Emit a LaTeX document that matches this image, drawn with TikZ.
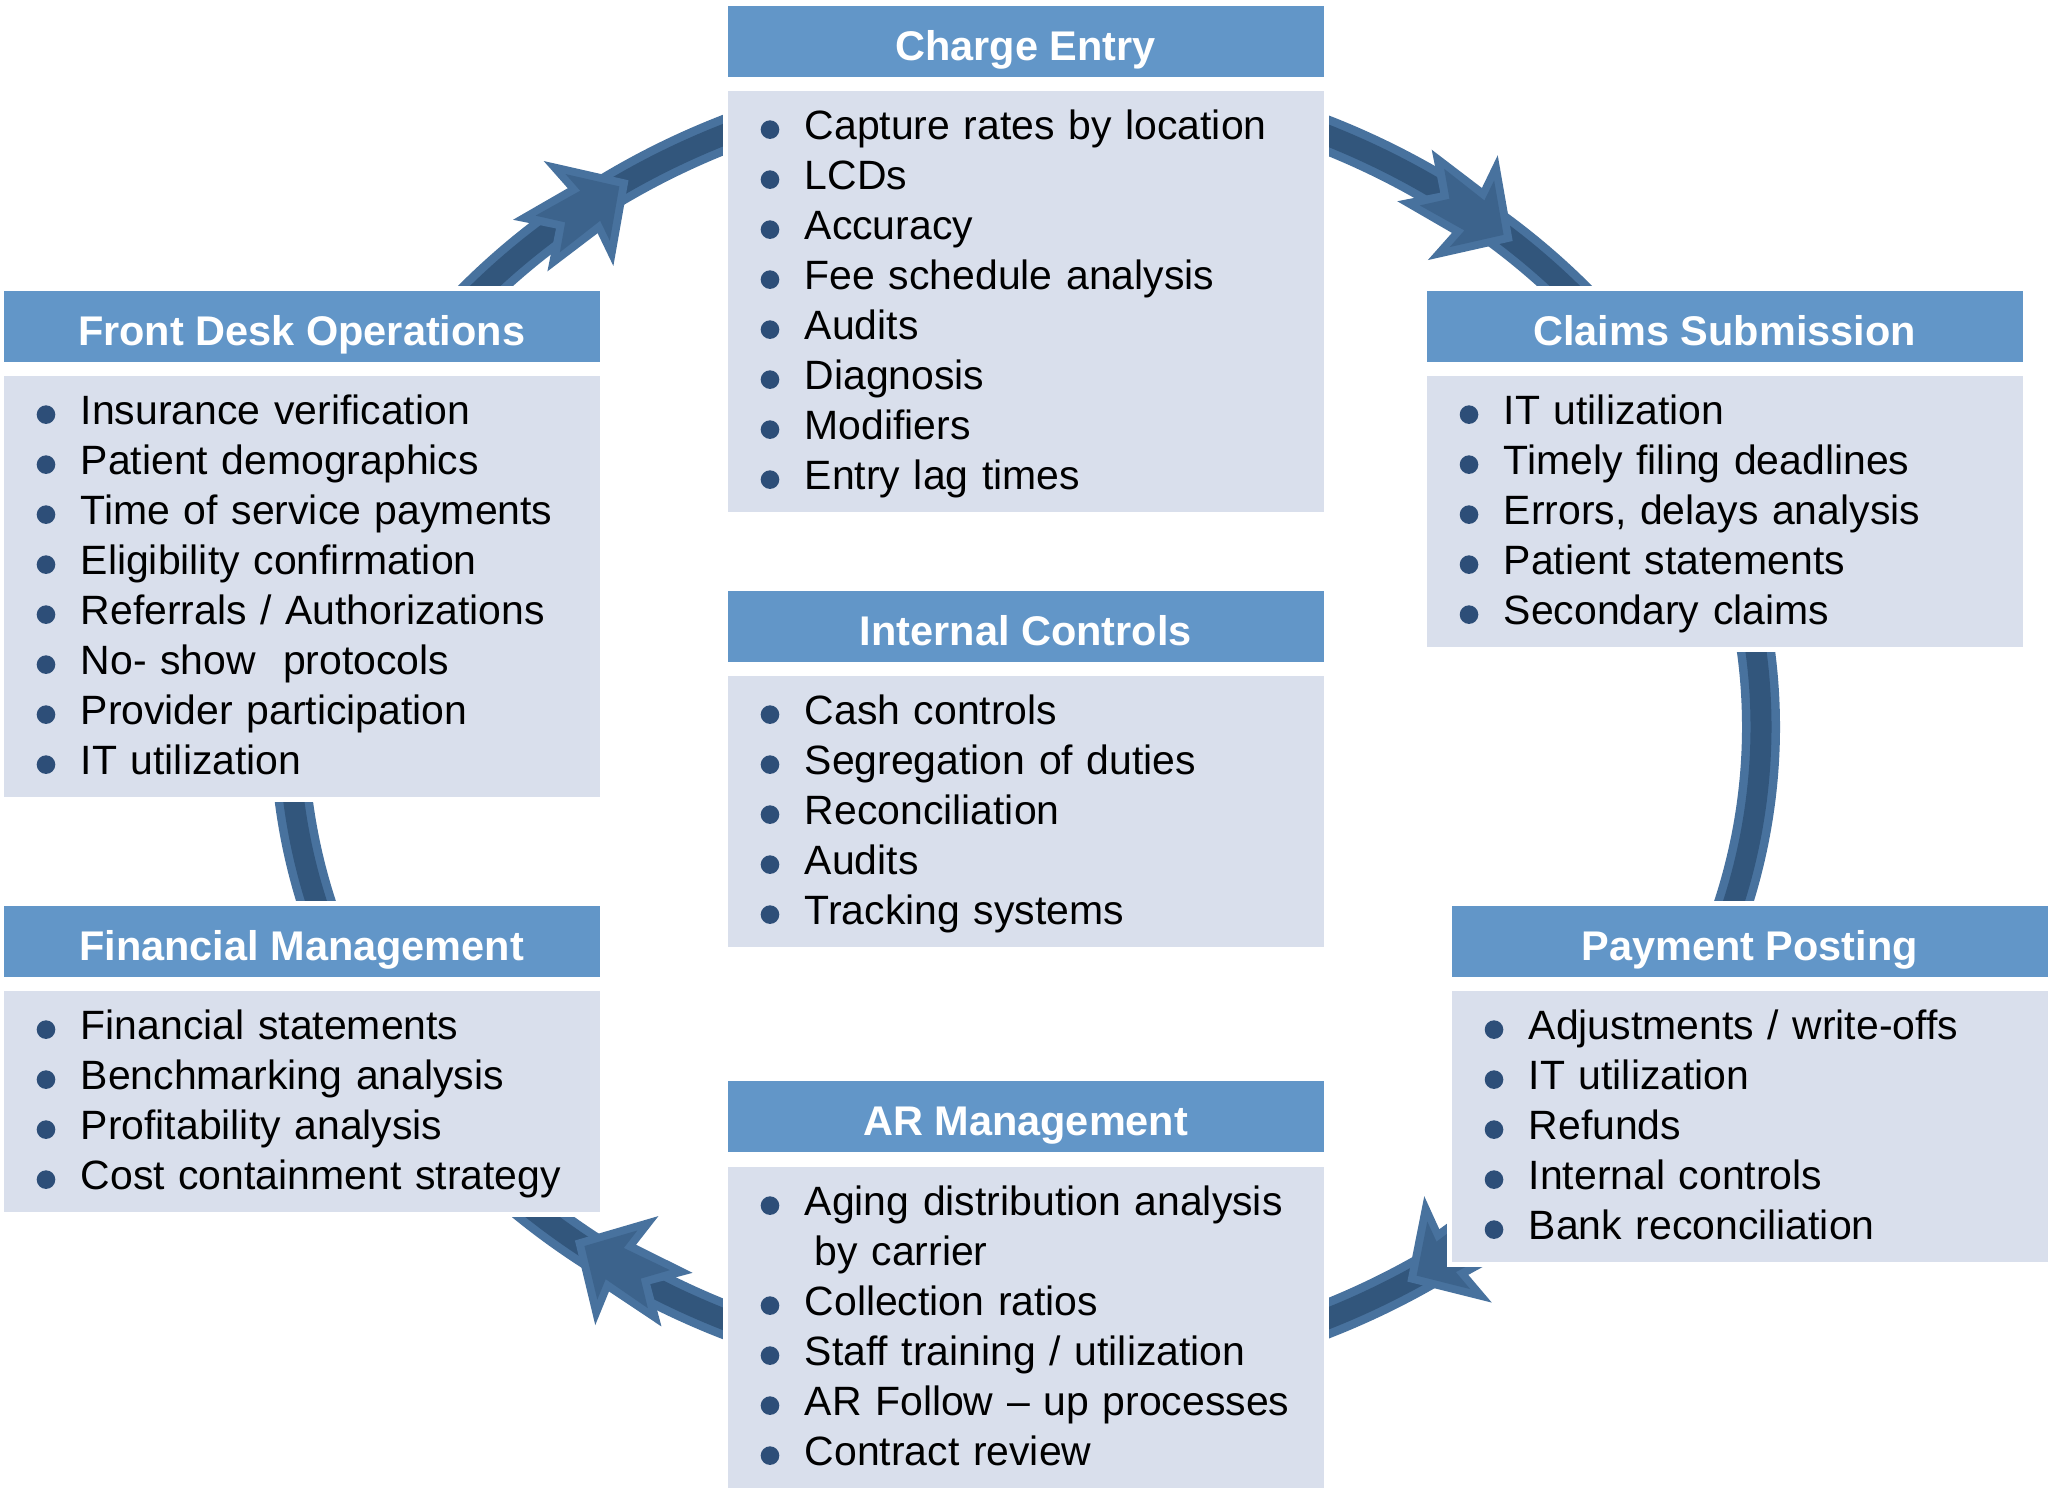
\documentclass[tikz,border=0pt]{standalone}
\usepackage{fontspec}
\setmainfont{Liberation Sans}
\usepackage{tikz}
\usetikzlibrary{positioning, calc, backgrounds}

\definecolor{headblue}{RGB}{98,150,200}
\definecolor{bodyblue}{RGB}{217,223,236}
\definecolor{dotblue}{RGB}{45,78,120}
\definecolor{ringedge}{RGB}{72,114,158}
\definecolor{ringcore}{RGB}{50,86,124}
\definecolor{headcore}{RGB}{60,99,140}

\newcommand{\bul}[1]{\rule[-0.12cm]{0pt}{0.5cm}\makebox[0.44cm][l]{\tikz[baseline=-0.1cm]\fill[dotblue] (0.07,0) circle (0.093cm);}\mbox{#1}}
\newcommand{\cont}[1]{\rule[-0.12cm]{0pt}{0.5cm}\hspace*{0.54cm}\mbox{#1}}

\begin{document}
\begin{tikzpicture}[
    head/.style = {
        fill=headblue, preaction={draw=white, line width=0.1cm},
        anchor=north west, inner sep=0pt,
        minimum width=5.96cm, minimum height=0.71cm,
        text height=0.45cm, text depth=0.07cm,
        font=\fontsize{11.8pt}{14pt}\selectfont\bfseries, text=white
    },
    body/.style = {
        fill=bodyblue, preaction={draw=white, line width=0.1cm},
        inner xsep=0.33cm, inner ysep=0.105cm, text width=5.30cm,
        align=left, font=\fontsize{11.65pt}{0.5cm}\selectfont
    },
    ring/.style = {
        line width=0.38cm, draw=ringedge,
        postaction={draw=ringcore, line width=0.21cm}
    },
    tipedge/.style = {fill=ringedge},
    tipcore/.style = {fill=headcore},
]
\useasboundingbox (0,0) rectangle (20.5,-14.92);

%% ── Charge Entry (top) ───────────────────────────────────────────────
\node[head] (ceHead) at (7.27,-0.05) {Charge Entry};
\node[body, below=0.13cm of ceHead.south west, anchor=north west] (ceBody)
  {\bul{Capture rates by location}\\
   \bul{LCDs}\\
   \bul{Accuracy}\\
   \bul{Fee schedule analysis}\\
   \bul{Audits}\\
   \bul{Diagnosis}\\
   \bul{Modifiers}\\
   \bul{Entry lag times}};

%% ── Front Desk Operations (left) ─────────────────────────────────────
\node[head] (fdHead) at (0.03,-2.90) {Front Desk Operations};
\node[body, below=0.13cm of fdHead.south west, anchor=north west] (fdBody)
  {\bul{Insurance verification}\\
   \bul{Patient demographics}\\
   \bul{Time of service payments}\\
   \bul{Eligibility confirmation}\\
   \bul{Referrals / Authorizations}\\
   \bul{No- show\ \ protocols}\\
   \bul{Provider participation}\\
   \bul{IT utilization}};

%% ── Claims Submission (right) ────────────────────────────────────────
\node[head] (csHead) at (14.26,-2.90) {Claims Submission};
\node[body, below=0.13cm of csHead.south west, anchor=north west] (csBody)
  {\bul{IT utilization}\\
   \bul{Timely filing deadlines}\\
   \bul{Errors, delays analysis}\\
   \bul{Patient statements}\\
   \bul{Secondary claims}};

%% ── Internal Controls (centre) ───────────────────────────────────────
\node[head] (icHead) at (7.27,-5.90) {Internal Controls};
\node[body, below=0.13cm of icHead.south west, anchor=north west] (icBody)
  {\bul{Cash controls}\\
   \bul{Segregation of duties}\\
   \bul{Reconciliation}\\
   \bul{Audits}\\
   \bul{Tracking systems}};

%% ── Financial Management (lower left) ───────────────────────────────
\node[head] (fmHead) at (0.03,-9.05) {Financial Management};
\node[body, below=0.13cm of fmHead.south west, anchor=north west] (fmBody)
  {\bul{Financial statements}\\
   \bul{Benchmarking analysis}\\
   \bul{Profitability analysis}\\
   \bul{Cost containment strategy}};

%% ── Payment Posting (lower right) ───────────────────────────────────
\node[head] (ppHead) at (14.51,-9.05) {Payment Posting};
\node[body, below=0.13cm of ppHead.south west, anchor=north west] (ppBody)
  {\bul{Adjustments / write-offs}\\
   \bul{IT utilization}\\
   \bul{Refunds}\\
   \bul{Internal controls}\\
   \bul{Bank reconciliation}};

%% ── AR Management (bottom) ───────────────────────────────────────────
\node[head] (arHead) at (7.27,-10.80) {AR Management};
\node[body, below=0.14cm of arHead.south west, anchor=north west] (arBody)
  {\bul{Aging distribution analysis}\\
   \cont{by carrier}\\
   \bul{Collection ratios}\\
   \bul{Staff training / utilization}\\
   \bul{AR Follow -- up processes}\\
   \bul{Contract review}};

%% ── Cycle ring ───────────────────────────────────────────────────────
\coordinate (ctr) at (10.25,-7.27);
\begin{pgfonlayer}{background}
  \draw[ring] ($(ctr)+(141:7.36cm and 6.49cm)$)
    arc[start angle=141, end angle=112, x radius=7.36cm, y radius=6.49cm];
  \draw[ring] ($(ctr)+(68:7.36cm and 6.49cm)$)
    arc[start angle=68, end angle=39, x radius=7.36cm, y radius=6.49cm];
  \draw[ring] ($(ctr)+(12:7.36cm and 6.49cm)$)
    arc[start angle=12, end angle=-20, x radius=7.36cm, y radius=6.49cm];
  \draw[ring] ($(ctr)+(-45:7.36cm and 6.49cm)$)
    arc[start angle=-45, end angle=-68, x radius=7.36cm, y radius=6.49cm];
  \draw[ring] ($(ctr)+(-112:7.36cm and 6.49cm)$)
    arc[start angle=-112, end angle=-135, x radius=7.36cm, y radius=6.49cm];
  \draw[ring] ($(ctr)+(200:7.36cm and 6.49cm)$)
    arc[start angle=200, end angle=182, x radius=7.36cm, y radius=6.49cm];

  %% arrow heads, tip on the ring
  \coordinate (tipTL) at ($(ctr)+(122.6:7.36cm and 6.49cm)$);
  \coordinate (tipTR) at ($(ctr)+(48.5:7.36cm and 6.49cm)$);
  \coordinate (tipBR) at ($(ctr)+(-58.7:7.36cm and 6.49cm)$);
  \coordinate (tipBL) at ($(ctr)+(-127.7:7.36cm and 6.49cm)$);

  \begin{scope}[shift={(tipTL)}, rotate=33.6]
    \fill[tipedge] (0,0) -- (-0.60,0.63) -- (-0.55,0.27) -- (-1.18,0.31) -- (-0.87,0)
      -- (-1.18,-0.31) -- (-0.55,-0.27) -- (-0.60,-0.63) -- cycle;
    \fill[tipcore] (-0.11,0) -- (-0.49,0.40) -- (-0.46,0.18) -- (-0.97,0.22) -- (-0.76,0)
      -- (-0.97,-0.22) -- (-0.46,-0.18) -- (-0.49,-0.40) -- cycle;
  \end{scope}
  \begin{scope}[shift={(tipTR)}, rotate=-33.7]
    \fill[tipedge] (0,0) -- (-0.60,0.63) -- (-0.55,0.27) -- (-1.18,0.31) -- (-0.87,0)
      -- (-1.18,-0.31) -- (-0.55,-0.27) -- (-0.60,-0.63) -- cycle;
    \fill[tipcore] (-0.11,0) -- (-0.49,0.40) -- (-0.46,0.18) -- (-0.97,0.22) -- (-0.76,0)
      -- (-0.97,-0.22) -- (-0.46,-0.18) -- (-0.49,-0.40) -- cycle;
  \end{scope}
  \begin{scope}[shift={(tipBR)}, rotate=212.4]
    \fill[tipedge] (0,0) -- (-0.60,0.63) -- (-0.55,0.27) -- (-1.18,0.31) -- (-0.87,0)
      -- (-1.18,-0.31) -- (-0.55,-0.27) -- (-0.60,-0.63) -- cycle;
    \fill[tipcore] (-0.11,0) -- (-0.49,0.40) -- (-0.46,0.18) -- (-0.97,0.22) -- (-0.76,0)
      -- (-0.97,-0.22) -- (-0.46,-0.18) -- (-0.49,-0.40) -- cycle;
  \end{scope}
  \begin{scope}[shift={(tipBL)}, rotate=149.9]
    \fill[tipedge] (0,0) -- (-0.60,0.63) -- (-0.55,0.27) -- (-1.18,0.31) -- (-0.87,0)
      -- (-1.18,-0.31) -- (-0.55,-0.27) -- (-0.60,-0.63) -- cycle;
    \fill[tipcore] (-0.11,0) -- (-0.49,0.40) -- (-0.46,0.18) -- (-0.97,0.22) -- (-0.76,0)
      -- (-0.97,-0.22) -- (-0.46,-0.18) -- (-0.49,-0.40) -- cycle;
  \end{scope}
\end{pgfonlayer}

\end{tikzpicture}
\end{document}
